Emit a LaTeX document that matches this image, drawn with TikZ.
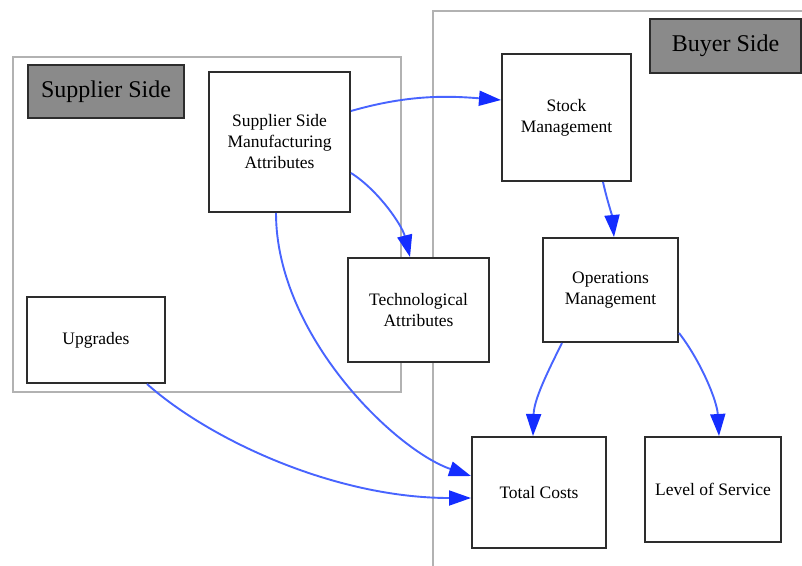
\documentclass[tikz,border=0pt]{standalone}
\usepackage{fontspec}
\setmainfont{Liberation Serif}
\usetikzlibrary{arrows.meta}
\definecolor{edgeblue}{RGB}{72,100,255}
\definecolor{tipblue}{RGB}{20,45,255}
\definecolor{boxline}{RGB}{45,45,45}
\definecolor{clusterline}{RGB}{178,178,178}
\definecolor{labelfill}{RGB}{138,138,138}
\begin{document}
\begin{tikzpicture}[x=1pt,y=-1pt,
  box/.style={draw=boxline,line width=2pt,fill=white,align=center,
    inner sep=0pt,font=\fontsize{17.5}{21}\selectfont},
  sidelabel/.style={draw=boxline,line width=2pt,fill=labelfill,
    inner sep=0pt,font=\fontsize{24}{28}\selectfont},
  cluster/.style={draw=clusterline,line width=1.6pt},
  flow/.style={draw=edgeblue,line width=1.9pt,
    -{Triangle[length=22pt,width=15pt,color=tipblue]}}]
\useasboundingbox (0,0) rectangle (802,565);
\fill[white] (0,0) rectangle (802,565);

% clusters
\begin{scope}
\clip (0,0) rectangle (802,565);
\draw[cluster] (433,575) -- (433,11) -- (815,11);
\end{scope}
\draw[cluster] (13,57) rectangle (401,392);

% cluster captions
\node[sidelabel,minimum width=156pt,minimum height=53pt] (suplab) at (106,91.5) {Supplier Side};
\node[sidelabel,minimum width=151pt,minimum height=54pt] (buylab) at (725.5,46) {Buyer Side};

% nodes
\node[box,minimum width=141pt,minimum height=140pt] (ssma) at (279.5,142)
  {Supplier Side\\Manufacturing\\Attributes};
\node[box,minimum width=141pt,minimum height=104pt] (tech) at (418.5,310)
  {Technological\\Attributes};
\node[box,minimum width=138pt,minimum height=86pt] (upg) at (96,340) {Upgrades};
\node[box,minimum width=129pt,minimum height=127pt] (stock) at (566.5,117.5)
  {Stock\\Management};
\node[box,minimum width=135pt,minimum height=104pt] (ops) at (610.5,290)
  {Operations\\Management};
\node[box,minimum width=134pt,minimum height=111pt] (total) at (539,492.5)
  {Total Costs};
\node[box,minimum width=136pt,minimum height=105pt] (los) at (713,489.5)
  {Level of Service};

% connectors
\draw[flow] (ssma.east |- 0,111) .. controls (410,94) and (450,96) .. (stock.west |- 0,100);
\draw[flow] (ssma.east |- 0,173) .. controls (378,190) and (402,225) .. (tech.north -| 410,0);
\draw[flow] (ssma.south -| 276,0) .. controls (276,335) and (395,450) .. (total.west |- 0,476);
\draw[flow] (upg.south -| 147,0) .. controls (210,440) and (335,498) .. (total.west |- 0,498);
\draw[flow] (stock.south -| 603,0) .. controls (607,200) and (612,215) .. (ops.north -| 614,0);
\draw[flow] (ops.south -| 562,0) .. controls (546,375) and (534,400) .. (total.north -| 533,0);
\draw[flow] (ops.east |- 0,333) .. controls (700,360) and (717,400) .. (los.north -| 719,0);
\end{tikzpicture}
\end{document}
